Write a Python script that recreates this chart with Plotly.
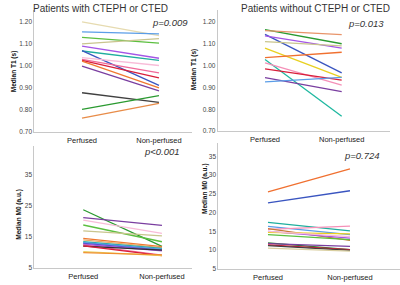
import plotly.graph_objects as go

categories = ["Perfused", "Non-perfused"]

# Top-left: T1, patients with CTEPH or CTED
t1_with_perf = [1.200, 1.155, 1.130, 1.100, 1.090, 1.068, 1.070, 1.038, 1.030, 1.025, 1.022, 0.999, 0.878, 0.802, 0.763]
t1_with_nonp = [1.138, 1.146, 1.104, 1.124, 1.035, 1.025, 0.912, 1.002, 0.968, 0.946, 0.900, 0.887, 0.834, 0.865, 0.830]

# Top-right: T1, patients without CTEPH or CTED
t1_without_perf = [1.165, 1.160, 1.143, 1.136, 1.110, 1.080, 1.036, 1.028, 1.012, 0.985, 0.945, 0.925]
t1_without_nonp = [1.100, 1.142, 0.967, 1.080, 1.090, 0.946, 1.061, 0.768, 0.910, 0.933, 0.881, 0.946]

# Bottom-left: M0, patients with CTEPH or CTED
m0_with_perf = [23.8, 21.3, 20.5, 18.9, 17.0, 14.6, 14.1, 13.5, 13.3, 13.0, 12.7, 12.5, 12.1, 12.2, 10.3, 10.0]
m0_with_nonp = [12.0, 18.8, 16.2, 13.5, 15.4, 11.9, 11.6, 11.4, 11.1, 10.8, 10.6, 9.2, 10.8, 9.0, 9.0, 9.3]

# Bottom-right: M0, patients without CTEPH or CTED
m0_without_perf = [25.5, 22.6, 17.4, 16.3, 15.5, 15.7, 15.0, 14.7, 14.1, 15.0, 11.9, 11.7, 11.4, 11.2, 10.5]
m0_without_nonp = [31.6, 25.8, 15.1, 14.1, 16.4, 12.6, 13.2, 14.3, 12.8, 13.6, 10.1, 11.0, 10.1, 9.9, 9.7]

titles = ["Patients with CTEPH or CTED", "Patients without CTEPH or CTED"]
p_values = ["p=0.009", "p=0.013", "p<0.001", "p=0.724"]
y_titles = ["Median T1 (s)", "Median T1 (s)", "Median M0 (a.u.)", "Median M0 (a.u.)"]

col_tl = ["#e6dbb0", "#5b9ee8", "#5cbf40", "#c9c58e", "#a455e6", "#1fae9e", "#3a55c0",
          "#f8bcd8", "#f06a9a", "#d81e3a", "#f07830", "#7a3ea0", "#404040", "#2a9a30", "#e88c48"]
col_tr = ["#2a9a30", "#e8946a", "#3a55c0", "#a455e6", "#c9c58e", "#e8d020", "#f07030",
          "#1fb8a0", "#f590b8", "#d81e3a", "#7a3ea0", "#5b9ee8"]
col_bl = ["#2a9a30", "#7a3ea0", "#f8bcd8", "#5cbf40", "#c9c58e", "#f07830", "#e8a868",
          "#1fae9e", "#5b9ee8", "#3a55c0", "#a455e6", "#f06a9a", "#303030", "#d81e3a",
          "#e8d060", "#f09030"]
col_br = ["#f07030", "#3a55c0", "#1fae9e", "#5b9ee8", "#f590b8", "#c87838", "#a455e6",
          "#e8d020", "#5cbf40", "#f8bcd8", "#2a7a30", "#7a3ea0", "#d81e3a", "#404040", "#d9cfa0"]

W, H = 400, 285
def fx(px):
    return px / W
def fy(py):
    return 1 - py / H

panels = [
    dict(perf=t1_with_perf, nonp=t1_with_nonp, cols=col_tl,
         xd=[fx(34.3), fx(191.7)], yd=[fy(133.3), fy(10)], xr=[-0.62, 1.425],
         yr=[0.70, 1.255], dtick=0.1, fmt=".2f"),
    dict(perf=t1_without_perf, nonp=t1_without_nonp, cols=col_tr,
         xd=[fx(217.7), fx(390)], yd=[fy(132.5), fy(10)], xr=[-0.617, 1.63],
         yr=[0.70, 1.255], dtick=0.1, fmt=".2f"),
    dict(perf=m0_with_perf, nonp=m0_with_nonp, cols=col_bl,
         xd=[fx(34.3), fx(191.7)], yd=[fy(271), fy(147.7)], xr=[-0.622, 1.378],
         yr=[5, 44.3], dtick=10, fmt="d"),
    dict(perf=m0_without_perf, nonp=m0_without_nonp, cols=col_br,
         xd=[fx(218.3), fx(400)], yd=[fy(271.7), fy(145)], xr=[-0.606, 1.61],
         yr=[5, 38.4], dtick=5, fmt="d"),
]

fig = go.Figure()
layout = dict(width=W, height=H, margin=dict(l=0, r=0, t=0, b=0),
              paper_bgcolor="white", plot_bgcolor="white", showlegend=False,
              font=dict(family="Liberation Sans, Arial, sans-serif", color="#333"))

for i, p in enumerate(panels):
    k = "" if i == 0 else str(i + 1)
    for a, b, c in zip(p["perf"], p["nonp"], p["cols"]):
        fig.add_trace(go.Scatter(x=categories, y=[a, b], mode="lines",
                                 line=dict(color=c, width=1.3),
                                 xaxis="x" + k, yaxis="y" + k, hoverinfo="skip"))
    layout["xaxis" + k] = dict(domain=p["xd"], anchor="y" + k, type="category",
                               range=p["xr"], showline=True, linecolor="#c8c8c8",
                               linewidth=1, showgrid=False, zeroline=False, ticks="",
                               tickfont=dict(size=7.5, color="#222"), ticklabelstandoff=1)
    layout["yaxis" + k] = dict(domain=p["yd"], anchor="x" + k, range=p["yr"],
                               dtick=p["dtick"], tick0=p["yr"][0], tickformat=p["fmt"],
                               showline=True, linecolor="#c8c8c8", linewidth=1,
                               showgrid=False, zeroline=False, ticks="",
                               tickfont=dict(size=6.5, color="#444"))

fig.update_layout(**layout)

ann = []
# Panel titles
for txt, x in zip(titles, [100, 315]):
    ann.append(dict(text=txt, x=fx(x), y=fy(9), xref="paper", yref="paper",
                    showarrow=False, xanchor="center", yanchor="middle",
                    font=dict(size=10, color="#333")))
# p-values
for txt, x, y in zip(p_values, [169.5, 366, 162, 362], [22.7, 24, 153, 157]):
    ann.append(dict(text="<i>" + txt + "</i>", x=fx(x), y=fy(y), xref="paper", yref="paper",
                    showarrow=False, xanchor="center", yanchor="middle",
                    font=dict(size=9.5, color="#333")))
# y-axis titles
for txt, x, y in zip(y_titles, [14, 194, 19, 205], [72, 70, 217, 190]):
    ann.append(dict(text="<b>" + txt + "</b>", x=fx(x), y=fy(y), xref="paper", yref="paper",
                    showarrow=False, xanchor="center", yanchor="middle", textangle=-90,
                    font=dict(size=6.5, color="#111")))
fig.update_layout(annotations=ann)

fig.write_html("out.html", config={"displayModeBar": False},
               post_script="document.body.style.margin='0';document.body.style.padding='0';")
